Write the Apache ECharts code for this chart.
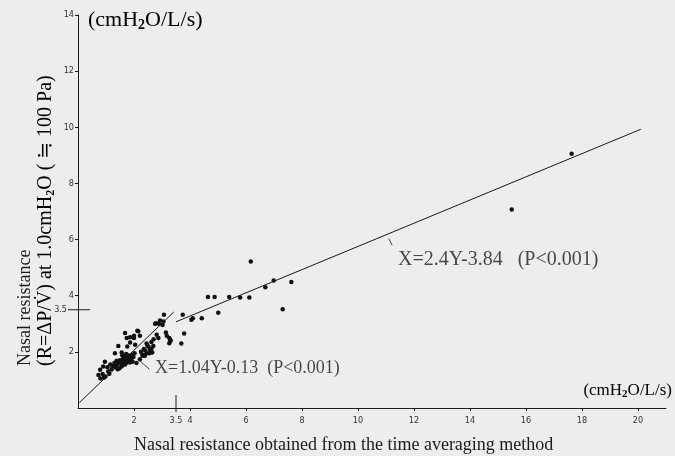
<!DOCTYPE html>
<html>
<head>
<meta charset="utf-8">
<script src="https://cdn.jsdelivr.net/npm/echarts@6/dist/echarts.min.js"></script>
<style>
  html, body { margin: 0; padding: 0; background: #ededed; }
  #chart { width: 675px; height: 456px; }
</style>
</head>
<body>
<div id="chart"></div>
<script>
// time averaging method (x) vs resistance at 1.0 cmH2O (y)
const timeAvg = [
  6.17, 6.99, 7.62, 6.69, 6.12, 5.79, 5.40, 4.88, 4.64, 7.31, 5.01, 4.42, 4.10, 4.05, 3.74, 3.79, 3.69, 17.63, 15.49,
  3.07, 2.93, 2.79, 3.02, 3.05, 2.89, 3.14, 3.26, 3.31, 3.17, 3.29, 3.26, 2.81, 2.87, 2.69, 2.57, 2.45, 2.39, 2.75,
  2.12, 1.68, 1.86, 2.00, 2.15, 2.21, 1.98, 1.44, 1.86, 1.76, 2.04, 1.32, 1.56, 2.09, 2.21, 2.31, 1.74, 2.00,
  2.45, 2.52, 2.35, 2.62, 2.70, 2.25, 2.40, 2.55, 2.62, 2.48, 2.30, 2.65,
  1.40, 1.45, 1.50, 1.55, 1.60, 1.62, 1.65, 1.70, 1.72, 1.75, 1.78, 1.80, 1.82, 1.85, 1.88, 1.90, 1.92, 1.95,
  1.55, 1.48, 1.35, 1.42, 1.60, 1.68, 1.98, 2.02, 1.72, 1.58, 1.38, 1.30,
  0.96, 0.90, 1.20, 1.08, 0.79, 0.88, 0.73, 0.80, 0.92, 1.05, 1.15, 1.25, 1.12, 0.98
];
const atOneCm = [
  5.22, 4.54, 4.49, 4.30, 3.94, 3.94, 3.95, 3.95, 3.95, 3.52, 3.39, 3.20, 3.20, 3.14, 3.32, 2.65, 2.30, 9.06, 7.07,
  3.32, 3.12, 3.02, 2.96, 3.08, 3.00, 2.69, 2.49, 2.40, 2.57, 2.43, 2.31, 2.61, 2.49, 2.21, 2.07, 1.95, 1.86, 3.00,
  2.75, 2.67, 2.52, 2.57, 2.73, 2.57, 2.52, 2.21, 2.33, 2.19, 2.25, 1.95, 1.98, 1.60, 1.74, 1.86, 2.49, 2.49,
  2.30, 2.18, 2.10, 2.35, 2.45, 2.00, 2.05, 1.95, 2.10, 2.22, 1.90, 1.98,
  1.55, 1.62, 1.70, 1.58, 1.75, 1.65, 1.82, 1.70, 1.60, 1.78, 1.88, 1.68, 1.75, 1.62, 1.80, 1.72, 1.90, 1.65,
  1.48, 1.42, 1.45, 1.38, 1.52, 1.55, 1.82, 1.95, 1.92, 1.88, 1.68, 1.60,
  1.65, 1.48, 1.38, 1.30, 1.36, 1.21, 1.18, 1.05, 1.08, 1.45, 1.55, 1.50, 1.22, 1.12
];

// regression lines, end points
const fitLow = [[0.05, 0.19], [3.42, 3.42]];   // X=1.04Y-0.13
const fitHigh = [[3.5, 3.07], [20.1, 9.93]];   // X=2.4Y-3.84
const leaderLow = [[2.21, 1.68], [2.55, 1.38]];
const leaderHigh = [[11.1, 6.03], [11.22, 5.8]];

const xTicks = [2, 3.5, 4, 6, 8, 10, 12, 14, 16, 18, 20];
const yTicks = [2, 3.5, 4, 6, 8, 10, 12, 14];
const evenX = [2, 4, 6, 8, 10, 12, 14, 16, 18, 20];
const evenY = [2, 4, 6, 8, 10, 12, 14];

const serif = '"Liberation Serif", "DejaVu Serif", serif';
const tickFont = '"Liberation Sans Narrow", "DejaVu Sans Condensed", "Liberation Sans", sans-serif';
const ink = '#1a1a1a';

const chart = echarts.init(document.getElementById('chart'));

const points = timeAvg.map((x, i) => [x, atOneCm[i]]);

const unitRich = (size) => ({
  a: { fontFamily: serif, fontSize: size, color: ink },
  s: { fontFamily: serif, fontSize: Math.round(size * 0.62), fontWeight: 'bold', color: ink, padding: [Math.round(size * 0.45), 0, 0, 0] }
});

const option = {
  backgroundColor: '#ededed',
  animation: false,
  grid: { left: 78, right: 9, top: 15, bottom: 48 },
  xAxis: {
    type: 'value', min: 0, max: 21, interval: 2,
    splitLine: { show: false },
    axisLine: { lineStyle: { color: ink, width: 1 } },
    axisTick: { customValues: evenX, length: 3, lineStyle: { color: ink } },
    axisLabel: {
      customValues: xTicks, fontFamily: tickFont, fontSize: 9, color: '#333', margin: 8
    }
  },
  yAxis: {
    type: 'value', min: 0, max: 14, interval: 2,
    splitLine: { show: false },
    axisLine: { lineStyle: { color: ink, width: 1 } },
    axisTick: { customValues: evenY, length: 3, lineStyle: { color: ink } },
    axisLabel: {
      customValues: yTicks, fontFamily: tickFont, fontSize: 9, color: '#333', margin: 4,
      formatter: (v) => v === 3.5 ? '{w|3.5}' : String(v),
      rich: { w: { fontFamily: tickFont, fontSize: 9, color: '#333', padding: [0, 7, 0, 0] } }
    }
  },
  graphic: [
    {
      type: 'text', left: 88, top: 9,
      style: { text: '{a|(cmH}{s|2}{a|O/L/s)}', rich: unitRich(22) }
    },
    {
      type: 'text', right: 3, top: 382,
      style: { text: '{a|(cmH}{s|2}{a|O/L/s)}', rich: unitRich(17) }
    },
    {
      type: 'text', left: 134, top: 436,
      style: { text: 'Nasal resistance obtained from the time averaging method', font: '18px ' + serif, fill: ink }
    },
    {
      type: 'text', x: 25, y: 366, rotation: Math.PI / 2,
      style: { text: 'Nasal resistance', font: '18px ' + serif, fill: ink, align: 'left', verticalAlign: 'middle' }
    },
    {
      type: 'text', x: 46, y: 366, rotation: Math.PI / 2,
      style: {
        text: '{a|(R=ΔP/V̇) at 1.0cmH}{s|2}{a|O ( ≒ 100 Pa)}',
        align: 'left', verticalAlign: 'middle',
        rich: unitRich(20)
      }
    }
  ],
  series: [
    {
      type: 'scatter', data: points, symbolSize: 4.5,
      itemStyle: { color: '#111', opacity: 1 }
    },
    {
      type: 'line', data: fitLow, symbol: 'none',
      lineStyle: { color: ink, width: 1 }
    },
    {
      type: 'line', data: fitHigh, symbol: 'none',
      lineStyle: { color: ink, width: 1 }
    },
    {
      type: 'line', data: leaderLow, symbol: 'none',
      lineStyle: { color: ink, width: 0.8 }
    },
    {
      type: 'line', data: leaderHigh, symbol: 'none',
      lineStyle: { color: ink, width: 0.8 }
    },
    {
      // equation labels, anchored in data space
      type: 'scatter', symbolSize: 0, silent: true,
      data: [
        { value: [2.75, 1.42], eq: 'X=1.04Y-0.13  (P<0.001)', size: 18 },
        { value: [11.43, 5.29], eq: 'X=2.4Y-3.84   (P<0.001)', size: 20 }
      ],
      label: {
        show: true, position: 'right', distance: 0,
        formatter: (p) => '{t' + p.data.size + '|' + p.data.eq + '}',
        rich: {
          t18: { fontFamily: serif, fontSize: 18, color: ink },
          t20: { fontFamily: serif, fontSize: 20, color: ink }
        }
      }
    },
    {
      // the 3.5 marks crossing both axes
      type: 'custom', silent: true, clip: false,
      data: [[3.5]],
      renderItem: (params, api) => {
        const v = api.value(0);
        const py = api.coord([0, v]);
        const px = api.coord([v, 0]);
        return {
          type: 'group',
          children: [
            { type: 'line', shape: { x1: py[0] - 10, y1: py[1], x2: py[0] + 12, y2: py[1] }, style: { stroke: ink, lineWidth: 1 } },
            { type: 'line', shape: { x1: px[0], y1: px[1] - 13, x2: px[0], y2: px[1] + 4 }, style: { stroke: ink, lineWidth: 1 } }
          ]
        };
      }
    }
  ]
};

chart.setOption(option);
</script>
</body>
</html>
